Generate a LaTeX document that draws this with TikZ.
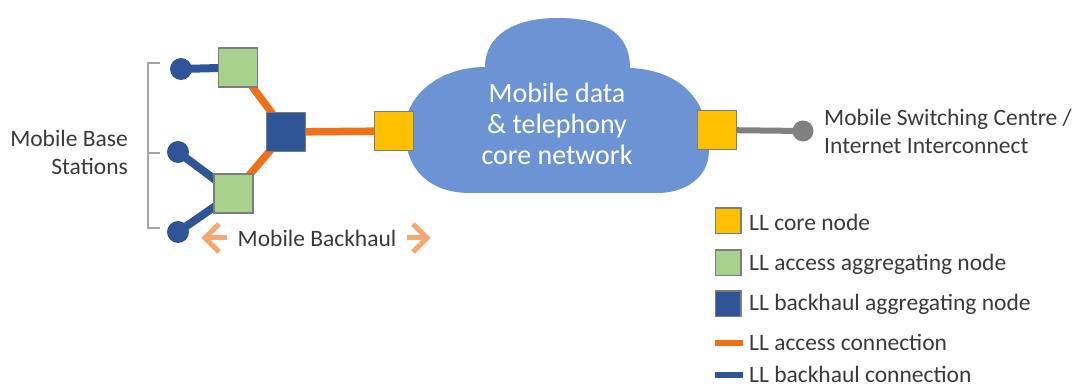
\documentclass[tikz,border=0pt]{standalone}
\usepackage{fontspec}
\setmainfont{Carlito}
\usetikzlibrary{arrows.meta,positioning,backgrounds}
\definecolor{txtgray}{RGB}{58,58,58}
\definecolor{boxedge}{RGB}{125,125,125}
\definecolor{corefill}{RGB}{255,192,0}
\definecolor{accfill}{RGB}{169,209,142}
\definecolor{bhfill}{RGB}{47,85,151}
\definecolor{acccol}{RGB}{240,112,24}
\definecolor{bhcol}{RGB}{47,85,151}
\definecolor{cloudfill}{RGB}{108,148,212}
\definecolor{mscgray}{RGB}{128,128,128}
\definecolor{bracketgray}{RGB}{165,165,165}
\definecolor{bharrowcol}{RGB}{244,168,116}

\begin{document}
\begin{tikzpicture}[x=1pt,y=-1pt,
  box/.style={draw=boxedge,line width=1.8pt,minimum size=39pt,inner sep=0pt},
  corebox/.style={box,fill=corefill},
  accbox/.style={box,fill=accfill},
  bhbox/.style={box,fill=bhfill},
  station/.style={circle,fill=bhcol,minimum size=22pt,inner sep=0pt},
  accline/.style={acccol,line width=7.5pt},
  bhline/.style={bhcol,line width=8pt},
  label/.style={txtgray,font=\fontsize{23.5}{28}\selectfont,inner sep=0pt},
  legkey/.style={draw=boxedge,line width=1.5pt,minimum size=25.5pt,inner sep=0pt},
  legline/.style={minimum width=28pt,minimum height=6pt,inner sep=0pt},
  bharrow/.style={bharrowcol,line width=5pt,line join=miter}]
  \useasboundingbox (0,0) rectangle (1080,387);

  % --- core network cloud ---
  \fill[cloudfill]
    (470,193) -- (657,193)
    .. controls (685,193) and (709,178) .. (709,150)
    .. controls (710,100) and (680,70) .. (630,68)
    .. controls (630,30) and (600,18) .. (557,18)
    .. controls (515,18) and (485,35) .. (485,67)
    .. controls (440,67) and (405,95) .. (405,130)
    .. controls (405,170) and (430,193) .. (470,193) -- cycle;
  \node[white,font=\fontsize{28}{31}\selectfont,align=center,inner sep=0pt]
    (net) at (557,124) {Mobile data\\\& telephony\\core network};

  % --- nodes ---
  \node[station] (bs1) at (181,69) {};
  \node[station] (bs2) at (178,152) {};
  \node[station] (bs3) at (178,232) {};
  \node[accbox] (acc1) at (238,67.5) {};
  \node[accbox] (acc2) at (233.5,193.5) {};
  \node[bhbox] (bha) at (286,132) {};
  \node[corebox] (core1) at (394,131) {};
  \node[corebox] (core2) at (717,130) {};
  \node[circle,fill=mscgray,minimum size=21pt,inner sep=0pt]
    (msc) at (803,131) {};

  % --- connections (behind the boxes) ---
  \begin{scope}[on background layer]
    \draw[bhline] (bs1.center) -- (acc1.center);
    \draw[bhline] (bs2.center) -- (acc2.center);
    \draw[bhline] (bs3.center) -- (acc2.center);
    \draw[accline] (acc1.center) -- (bha.center);
    \draw[accline] (acc2.center) -- (bha.center);
    \draw[accline] (bha.center) -- (core1.center);
    \draw[mscgray,line width=6pt] (core2.center) -- (msc.center);
  \end{scope}

  % bracket round the base stations
  \draw[bracketgray,line width=1.5pt]
    (160,63) -- (148,63) -- (148,228) -- (160,228)
    (148,153) -- (160,153);

  % --- labels ---
  \node[label,align=right,anchor=east] (bslabel) at (128,152)
    {Mobile Base\\Stations};
  \node[label,align=left,anchor=west] (msclabel) at (824,131)
    {Mobile Switching Centre /\\Internet Interconnect};
  \node[label,inner xsep=10pt] (bh) at (317,238) {Mobile Backhaul};
  \coordinate (bhl) at (205,238);
  \coordinate (bhr) at (427,238);
  \draw[bharrow] (bh.west) -- (bhl);
  \draw[bharrow] ([shift={(14,-14)}]bhl) -- (bhl) -- ([shift={(14,14)}]bhl);
  \draw[bharrow] (bh.east) -- (bhr);
  \draw[bharrow] ([shift={(-14,-14)}]bhr) -- (bhr) -- ([shift={(-14,14)}]bhr);

  % --- legend ---
  \node[legkey,fill=corefill] (k1) at (728,221) {};
  \node[legkey,fill=accfill] (k2) at (728,263) {};
  \node[legkey,fill=bhfill] (k3) at (728,304) {};
  \node[legline,fill=acccol] (k4) at (729,343) {};
  \node[legline,fill=bhcol] (k5) at (729,375) {};
  \node[label,anchor=west] (t1) at (749,222) {LL core node};
  \node[label,anchor=west] (t2) at (749,264) {LL access aggregating node};
  \node[label,anchor=west] (t3) at (749,304) {LL backhaul aggregating node};
  \node[label,anchor=west] (t4) at (749,342) {LL access connection};
  \node[label,anchor=west] (t5) at (749,374) {LL backhaul connection};
\end{tikzpicture}
\end{document}
